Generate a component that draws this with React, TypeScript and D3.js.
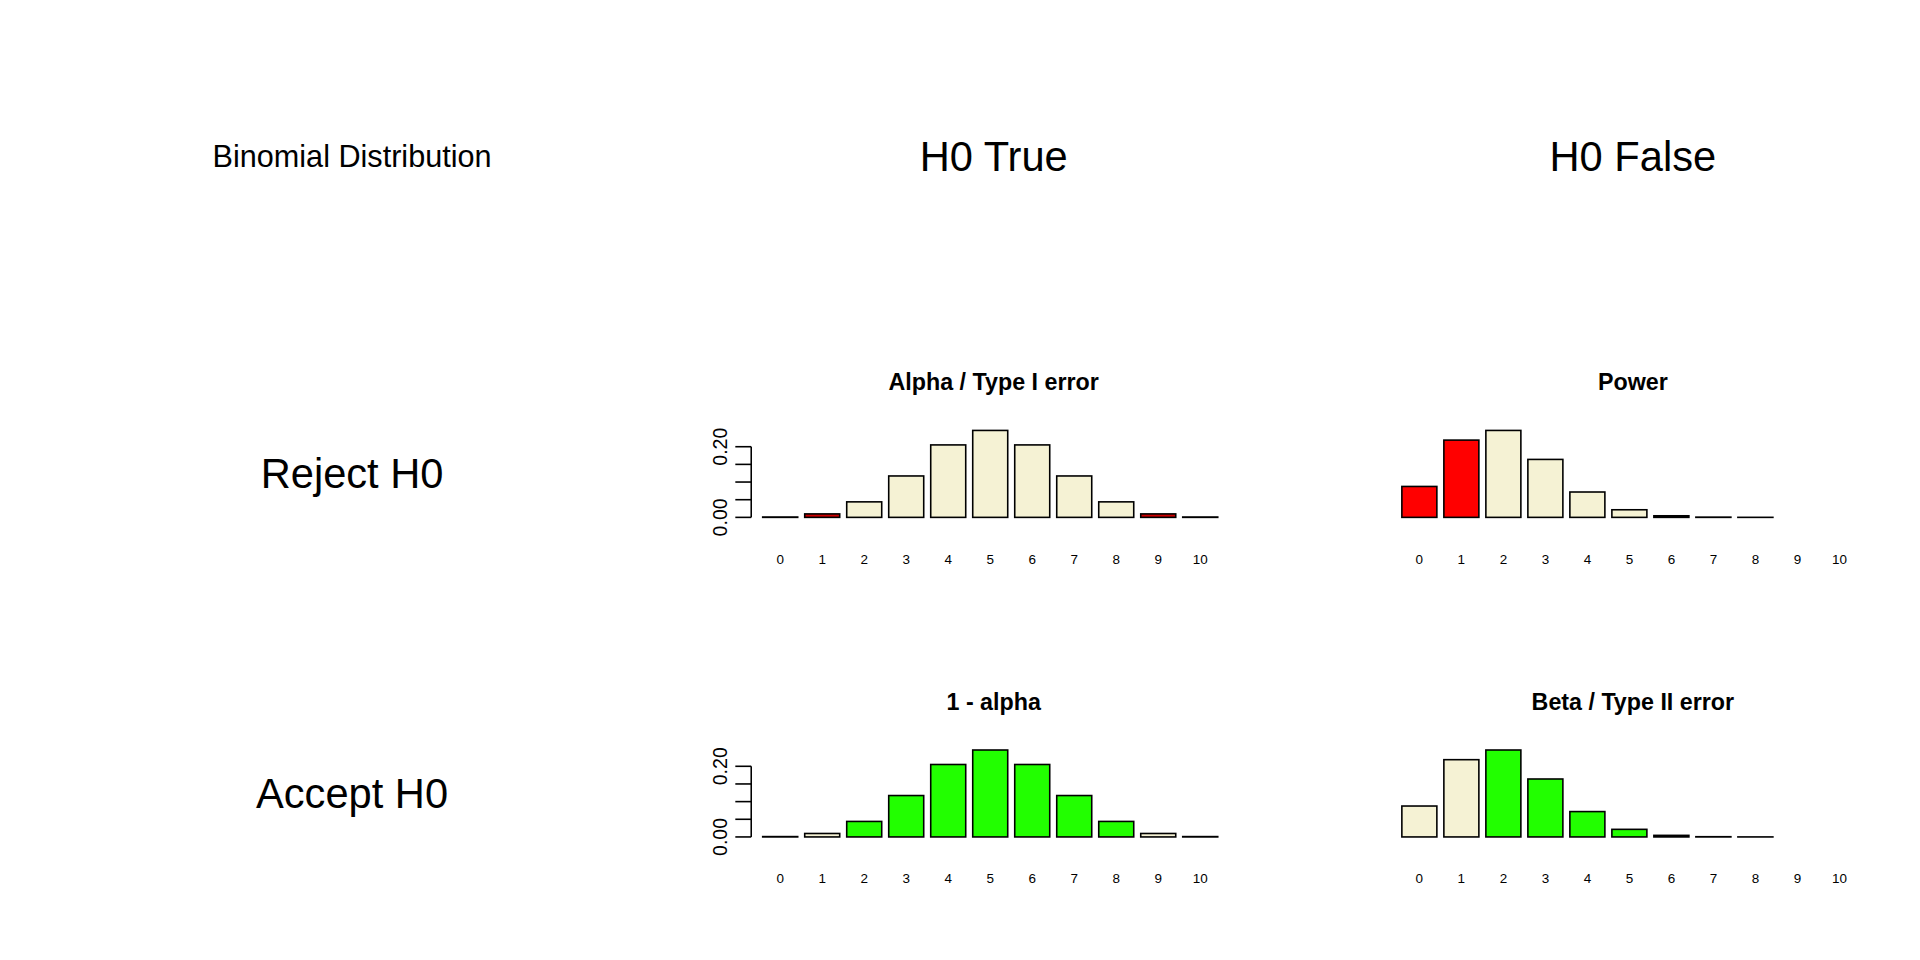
import React from "react";
import * as d3 from "d3";

const outcomes = ["0", "1", "2", "3", "4", "5", "6", "7", "8", "9", "10"];
const probH0True = [0.001, 0.0098, 0.0439, 0.1172, 0.2051, 0.2461, 0.2051, 0.1172, 0.0439, 0.0098, 0.001];
const probH0False = [0.1074, 0.2684, 0.302, 0.2013, 0.0881, 0.0264, 0.0055, 0.0008, 0.0001, 0.0, 0.0];
const rejectSet = ["0", "1", "9", "10"];
const yTicks = [0, 0.05, 0.1, 0.15, 0.2];
const yTickLabels = ["0.00", "0.20"];

const BEIGE = "#f5f2d4";
const RED = "#ff0000";
const GREEN = "#22ff00";
const FONT = "Liberation Sans, Arial, sans-serif";

interface PanelProps {
  x0: number;
  base: number;
  title: string;
  values: number[];
  color: (k: string) => string;
  axis: boolean;
}

function Panel({ x0, base, title, values, color, axis }: PanelProps) {
  const unit = 366 / 13;
  const x = d3.scaleBand().domain(outcomes).range([x0 - 0.2 * unit, x0 + 13 * unit]).paddingInner(0.2 / 1.2).paddingOuter(0);
  const max = d3.max(values) || 1;
  const y = d3.scaleLinear().domain([0, max]).range([base, base - 71]);
  const yA = d3.scaleLinear().domain([0, 0.2461]).range([base, base - 71]);
  const cx = x0 + 183;
  return (
    <g>
      <text x={cx} y={base - 104} textAnchor="middle" fontSize={19} fontWeight="bold" fontFamily={FONT}>{title}</text>
      {outcomes.map((k, i) => (
        <rect key={k} x={x(k)} y={y(values[i])} width={x.bandwidth()} height={Math.max(0, base - y(values[i]))}
          fill={color(k)} stroke="#000" strokeWidth={1.3} />
      ))}
      {outcomes.map((k) => (
        <text key={k} x={(x(k) || 0) + x.bandwidth() / 2} y={base + 38} textAnchor="middle" fontSize={11} fontFamily={FONT}>{k}</text>
      ))}
      {axis && (
        <g>
          <line x1={x0 - 15} x2={x0 - 15} y1={yA(0)} y2={yA(0.2)} stroke="#000" strokeWidth={1.3} />
          {yTicks.map((t) => (
            <line key={t} x1={x0 - 15} x2={x0 - 28} y1={yA(t)} y2={yA(t)} stroke="#000" strokeWidth={1.3} />
          ))}
          {yTickLabels.map((l) => (
            <text key={l} transform={`translate(${x0 - 35},${yA(+l)}) rotate(-90)`} textAnchor="middle" fontSize={16} fontFamily={FONT}>{l}</text>
          ))}
        </g>
      )}
    </g>
  );
}

export default function App() {
  const isRej = (k: string) => rejectSet.includes(k);
  const lowRej = (k: string) => +k <= 1;
  return (
    <svg width={1904} height={952} viewBox="0 0 1555 777.5" style={{ display: "block" }}>
      <rect width={1568} height={784} fill="#fff" />
      <text x={281} y={130} textAnchor="middle" fontSize={25} fontFamily={FONT}>Binomial Distribution</text>
      <text x={805} y={133} textAnchor="middle" fontSize={34} fontFamily={FONT}>H0 True</text>
      <text x={1327} y={133} textAnchor="middle" fontSize={34} fontFamily={FONT}>H0 False</text>
      <text x={281} y={392} textAnchor="middle" fontSize={34} fontFamily={FONT}>Reject H0</text>
      <text x={281} y={653} textAnchor="middle" fontSize={34} fontFamily={FONT}>Accept H0</text>
      <Panel x0={622} base={416} title="Alpha / Type I error" values={probH0True} color={(k) => (isRej(k) ? "#cc0000" : BEIGE)} axis />
      <Panel x0={1144} base={416} title="Power" values={probH0False} color={(k) => (lowRej(k) ? RED : BEIGE)} axis={false} />
      <Panel x0={622} base={677} title="1 - alpha" values={probH0True} color={(k) => (isRej(k) ? BEIGE : GREEN)} axis />
      <Panel x0={1144} base={677} title="Beta / Type II error" values={probH0False} color={(k) => (lowRej(k) ? BEIGE : GREEN)} axis={false} />
    </svg>
  );
}
